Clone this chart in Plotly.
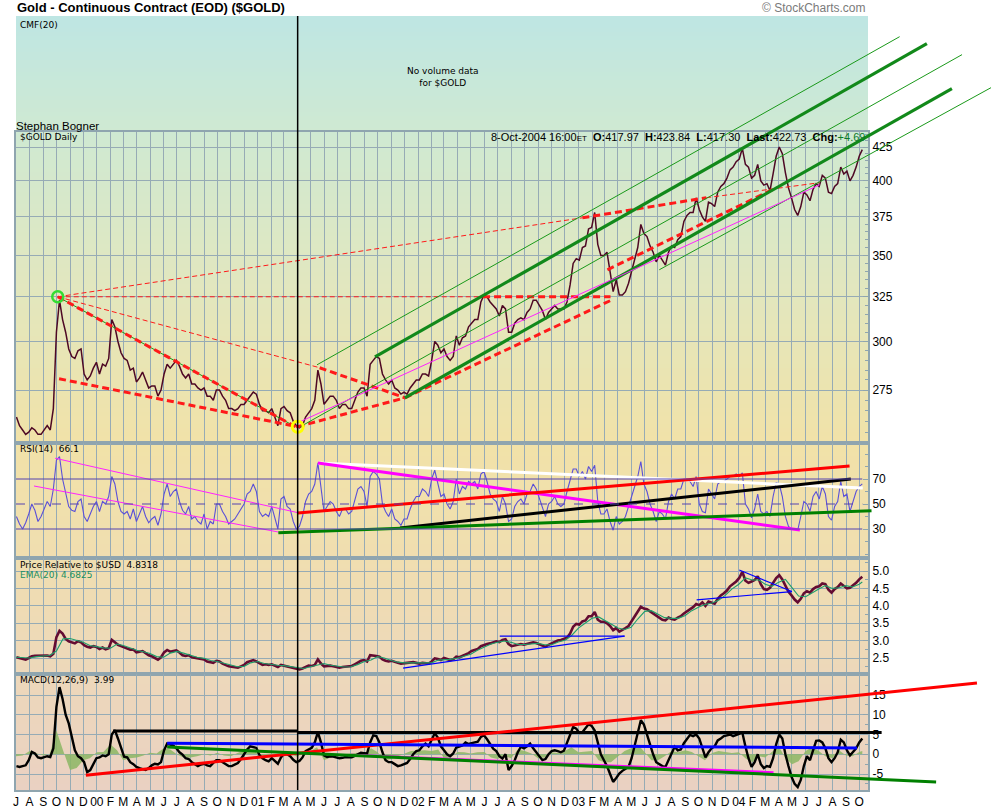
import math
import pandas as pd
import plotly.graph_objects as go

# ---------------------------------------------------------------- data ----
# weekly (Friday) closes of $GOLD, one inner list per month, Jul-1999 .. Oct-2004
price_by_month = [
    [262, 258, 256, 254, 255], [257, 256, 254, 254], [256, 258, 256, 266],
    [305, 323, 312, 305, 296], [292, 291, 295, 296], [283, 280, 282, 286, 289],
    # 2000
    [283, 288, 287, 291], [312, 308, 300, 294], [291, 290, 285, 286, 279],
    [281, 284, 280, 276], [277, 277, 272, 275], [283, 288, 286, 288, 290],
    [287, 283, 281, 283], [278, 278, 276, 275], [276, 272, 272, 270, 275],
    [275, 272, 270, 266], [266, 265, 266, 268], [268, 270, 272, 274, 273],
    # 2001
    [268, 265, 265, 264], [266, 262, 258, 266], [267, 265, 264, 260, 258],
    [257, 258, 262, 264], [266, 270, 285, 278], [268, 270, 272, 272, 270],
    [266, 268, 268, 266], [266, 270, 274, 276, 276], [272, 288, 290, 292],
    [291, 283, 280, 278], [280, 276, 275, 273, 274], [273, 276, 278, 280],
    # 2002
    [280, 283, 283, 282], [290, 300, 298, 294], [296, 292, 290, 292, 303],
    [298, 302, 303, 308], [310, 312, 312, 322, 326], [325, 322, 320, 318],
    [314, 320, 318, 305], [305, 310, 312, 313, 312], [316, 318, 323, 323],
    [320, 317, 312, 316], [318, 320, 318, 318, 318], [322, 332, 345, 348],
    # 2003
    [347, 355, 356, 367, 368], [378, 357, 350, 350], [352, 340, 328, 335],
    [326, 326, 328, 333], [340, 348, 355, 370, 364], [362, 356, 352, 346],
    [350, 347, 344, 352], [356, 355, 360, 362, 372], [376, 378, 378, 388],
    [380, 375, 372, 385, 384], [382, 392, 396, 398], [402, 408, 410, 414],
    # 2004
    [416, 424, 412, 410, 402], [404, 412, 400, 397], [398, 393, 405, 418],
    [425, 420, 406, 395, 388], [380, 376, 382, 392], [390, 386, 394, 398],
    [396, 404, 402, 392, 391], [396, 398, 410, 405], [407, 400, 404, 410],
    [418, 423],
]

rsi_by_month = [
    [40, 34, 30, 35, 42], [50, 45, 36, 40], [46, 52, 48, 62],
    [85, 88, 70, 58, 48], [45, 44, 52, 54], [40, 36, 42, 48, 52],
    [44, 52, 50, 56], [72, 66, 52, 44], [42, 44, 38, 46, 36],
    [42, 48, 40, 35], [38, 40, 33, 42], [58, 66, 56, 60, 62],
    [52, 45, 42, 48], [38, 40, 36, 34], [42, 30, 36, 34, 50],
    [50, 44, 40, 34], [36, 38, 42, 46], [50, 58, 60, 66, 60],
    [44, 40, 42, 40], [48, 40, 30, 54], [56, 48, 46, 36, 30],
    [32, 40, 52, 58], [60, 66, 83, 62], [44, 48, 52, 50, 44],
    [40, 46, 46, 42], [44, 54, 62, 64, 60], [48, 72, 76, 74],
    [70, 50, 44, 40], [46, 38, 36, 33, 38], [38, 46, 52, 56],
    [56, 62, 60, 56], [70, 77, 66, 56], [58, 50, 46, 52, 70],
    [58, 64, 62, 68], [66, 68, 62, 74, 76], [68, 58, 54, 52],
    [44, 56, 50, 36], [38, 48, 52, 54, 50], [58, 60, 66, 62],
    [54, 46, 40, 50], [52, 56, 50, 48, 50], [60, 70, 78, 78],
    [72, 76, 70, 80, 76], [81, 52, 42, 42], [46, 36, 29, 40],
    [34, 36, 40, 48], [58, 66, 72, 84, 66], [60, 50, 44, 36],
    [44, 42, 38, 52], [58, 54, 62, 62, 70], [70, 68, 64, 72],
    [50, 44, 43, 62, 58], [54, 66, 68, 68], [70, 72, 72, 74],
    [72, 75, 50, 46, 39], [46, 58, 44, 42], [44, 40, 56, 67],
    [66, 56, 40, 32, 30], [30, 29, 40, 52], [50, 44, 56, 60],
    [54, 64, 58, 40, 37], [48, 52, 68, 56], [58, 44, 52, 60],
    [64, 66.1],
]

pr_by_month = [
    [2.52, 2.50, 2.48, 2.45, 2.50], [2.55, 2.56, 2.56, 2.57], [2.58, 2.57, 2.55, 2.62],
    [3.10, 3.28, 3.20, 3.05, 2.98], [2.96, 2.92, 2.98, 2.95], [2.87, 2.82, 2.80, 2.84, 2.82],
    [2.76, 2.80, 2.75, 2.78], [3.02, 2.95, 2.88, 2.84], [2.80, 2.78, 2.74, 2.74, 2.66],
    [2.68, 2.70, 2.64, 2.58], [2.55, 2.50, 2.45, 2.52], [2.66, 2.73, 2.68, 2.70, 2.72],
    [2.66, 2.58, 2.56, 2.58], [2.52, 2.50, 2.50, 2.48], [2.46, 2.40, 2.38, 2.36, 2.42],
    [2.40, 2.34, 2.30, 2.26], [2.25, 2.23, 2.22, 2.26], [2.30, 2.38, 2.42, 2.44, 2.40],
    [2.34, 2.30, 2.32, 2.30], [2.32, 2.28, 2.24, 2.30], [2.28, 2.26, 2.22, 2.20, 2.18],
    [2.17, 2.20, 2.25, 2.28], [2.27, 2.30, 2.46, 2.34], [2.26, 2.28, 2.28, 2.26, 2.24],
    [2.22, 2.24, 2.25, 2.26], [2.27, 2.32, 2.38, 2.42, 2.44], [2.40, 2.58, 2.58, 2.56],
    [2.54, 2.46, 2.42, 2.40], [2.42, 2.38, 2.36, 2.34, 2.35], [2.34, 2.36, 2.38, 2.36],
    [2.34, 2.36, 2.35, 2.34], [2.40, 2.49, 2.47, 2.44], [2.50, 2.46, 2.44, 2.46, 2.54],
    [2.52, 2.56, 2.58, 2.64], [2.70, 2.74, 2.76, 2.84, 2.88], [2.90, 2.92, 2.96, 2.98],
    [2.96, 3.02, 3.04, 2.90], [2.84, 2.86, 2.88, 2.90, 2.88], [2.90, 2.92, 2.95, 2.93],
    [2.90, 2.86, 2.82, 2.88], [2.92, 2.98, 3.00, 3.02, 3.04], [3.08, 3.20, 3.40, 3.48],
    [3.46, 3.55, 3.58, 3.70, 3.70], [3.82, 3.60, 3.54, 3.54], [3.50, 3.42, 3.30, 3.36],
    [3.26, 3.30, 3.36, 3.42], [3.55, 3.70, 3.84, 3.97, 3.92], [3.90, 3.84, 3.78, 3.70],
    [3.66, 3.60, 3.58, 3.66], [3.62, 3.60, 3.66, 3.70, 3.78], [3.84, 3.90, 3.96, 4.05],
    [4.02, 4.10, 4.00, 4.12, 4.10], [4.06, 4.20, 4.30, 4.36], [4.44, 4.56, 4.62, 4.70],
    [4.80, 4.98, 4.72, 4.66, 4.70], [4.74, 4.85, 4.62, 4.48], [4.46, 4.52, 4.66, 4.80],
    [4.88, 4.76, 4.58, 4.40, 4.30], [4.18, 4.10, 4.20, 4.36], [4.42, 4.38, 4.48, 4.54],
    [4.56, 4.64, 4.62, 4.46, 4.38], [4.48, 4.54, 4.64, 4.58], [4.50, 4.52, 4.58, 4.66],
    [4.76, 4.8318],
]

macd_by_month = [
    [-3.0, -3.2, -3.0, -2.8, -1.5], [0.6, 0.2, -0.8, -1.0], [-0.8, -0.5, -0.7, 1.5],
    [12.0, 17.0, 14.0, 10.0, 7.8], [4.0, 1.0, -0.5, -1.0], [-2.0, -4.5, -4.0, -2.5, -1.0],
    [-0.8, -0.3, -0.5, 0.0], [5.0, 6.1, 4.0, 1.5], [-0.6, -0.8, -2.0, -2.5, -3.2],
    [-3.5, -3.8, -4.0, -3.5], [-2.8, -2.4, -2.6, -2.0], [1.0, 2.7, 2.4, 2.2, 1.5],
    [0.5, -0.1, -1.0, -1.2], [-2.0, -2.5, -3.0, -2.6], [-2.4, -2.8, -3.0, -2.2, -1.5],
    [-1.5, -2.0, -2.5, -3.0], [-3.0, -2.6, -2.2, -1.2], [0.0, 1.2, 2.0, 1.8, 1.6],
    [-0.2, -1.0, -1.5, -1.8], [-1.0, -1.6, -2.4, -0.8], [0.2, 0.0, -0.5, -1.4, -2.0],
    [-1.7, -0.8, 0.8, 1.2], [1.6, 3.0, 5.6, 3.0], [-0.3, -0.7, -0.5, -0.6, -0.8],
    [-1.0, -0.9, -0.7, -0.8], [-0.8, -0.4, 0.0, 0.4, 0.3], [0.2, 3.0, 4.8, 4.6],
    [3.0, 0.5, -1.5, -2.0], [-2.0, -2.5, -3.0, -2.8, -2.5], [-2.2, -1.2, 0.0, 0.8],
    [1.0, 2.0, 2.7, 2.0], [3.5, 5.3, 4.2, 2.0], [1.0, 0.0, -0.5, 0.2, 1.7],
    [2.0, 2.2, 3.0, 2.6], [2.8, 3.0, 3.2, 4.4, 4.8], [3.8, 2.6, 1.4, 0.8],
    [-0.5, -1.1, 0.0, -4.0], [-3.0, -1.5, 0.5, 1.9, 1.5], [2.0, 2.7, 1.5, 0.5],
    [-0.8, -1.5, -1.2, 0.0], [0.8, 1.0, 0.8, 0.5, 0.9], [3.0, 5.0, 6.9, 6.5],
    [5.4, 5.6, 6.5, 7.6, 7.2], [6.0, 3.0, 0.0, -1.5], [-3.0, -5.0, -7.0, -6.0],
    [-4.9, -4.2, -3.6, -3.2], [-1.0, 2.0, 5.0, 8.6, 7.5], [5.0, 2.0, 0.0, -2.0],
    [-2.5, -3.0, -3.2, -1.5], [0.0, 1.9, 1.0, 1.2, 2.8], [4.0, 4.9, 4.6, 5.0],
    [4.0, 1.5, -0.8, 0.5, 1.5], [2.0, 3.5, 4.0, 4.6], [4.8, 5.0, 4.6, 4.9],
    [5.2, 5.5, 2.0, -1.0, -3.2], [-2.0, 0.0, -2.5, -3.5], [-3.0, -3.2, -1.0, 2.5],
    [5.0, 4.0, 0.0, -3.0, -5.7], [-7.5, -8.3, -6.5, -3.0], [-0.5, -1.5, 1.0, 3.4],
    [3.5, 3.0, 1.5, -1.0, -2.0], [-1.0, 0.5, 3.7, 3.0], [1.0, -0.3, 0.5, 1.5],
    [3.0, 3.99],
]

# semi-monthly values (1st and 16th of each month, then 1-Oct and 8-Oct-2004)
ema20 = [
    2.52, 2.50, 2.50, 2.54, 2.56, 2.57, 2.70, 3.05, 3.06, 3.00, 2.95, 2.86,
    2.82, 2.79, 2.78, 2.90, 2.86, 2.79, 2.72, 2.68, 2.63, 2.54, 2.52, 2.64,
    2.69, 2.64, 2.58, 2.52, 2.49, 2.43, 2.40, 2.36, 2.30, 2.25, 2.26, 2.36,
    2.40, 2.34, 2.31, 2.29, 2.28, 2.25, 2.21, 2.20, 2.25, 2.30, 2.34, 2.29,
    2.26, 2.24, 2.25, 2.31, 2.40, 2.44, 2.54, 2.50, 2.43, 2.38, 2.36, 2.36,
    2.36, 2.35, 2.36, 2.44, 2.45, 2.46, 2.50, 2.55, 2.61, 2.72, 2.82, 2.90,
    2.95, 2.99, 2.95, 2.89, 2.89, 2.91, 2.92, 2.88, 2.88, 2.96, 3.01, 3.14,
    3.36, 3.50, 3.64, 3.68, 3.58, 3.46, 3.36, 3.32, 3.38, 3.62, 3.84, 3.86,
    3.76, 3.66, 3.64, 3.64, 3.72, 3.86, 3.96, 4.04, 4.08, 4.16, 4.30, 4.48,
    4.62, 4.80, 4.74, 4.74, 4.62, 4.56, 4.68, 4.76, 4.52, 4.28, 4.26, 4.38,
    4.48, 4.58, 4.50, 4.52, 4.58, 4.54, 4.62, 4.6825,
]
macd_hist = [
    -0.5, -0.3, 0.8, 0.2, -0.3, 0.1, 6.0, 1.0, -4.0, -3.5, -1.5, -1.0,
    0.5, 0.6, 2.5, 1.0, -1.5, -1.0, -0.8, -0.3, 0.4, 0.2, 1.5, 1.2,
    0.0, -0.8, -0.8, -0.5, 0.0, -0.3, 0.4, -0.3, -0.5, 0.3, 1.0, 1.2,
    0.3, -0.6, -0.2, -0.5, 0.8, 0.2, -0.6, 0.6, 0.8, 1.8, -1.5, -0.8,
    -0.3, 0.0, 0.2, 0.4, 0.2, 1.5, 0.5, -1.5, -1.2, -0.6, 0.2, 0.8,
    0.9, 1.0, 0.8, 1.2, -1.0, -0.8, 0.6, 0.5, 0.2, 0.5, 0.6, -0.8,
    -1.2, -0.5, -1.0, 1.2, 0.8, 0.2, -1.0, -0.8, 0.5, 0.3, 0.8, 1.8,
    0.5, 0.6, 0.8, -1.5, -2.0, -2.0, -0.5, 0.8, 1.5, 2.5, 0.5, -1.5,
    -1.5, -0.5, 0.8, 0.5, 1.0, 0.6, -0.5, -1.5, 0.3, 0.8, 0.6, 0.3,
    0.5, -1.0, -2.0, -0.5, -0.8, 0.5, 2.0, -1.0, -2.5, -1.8, 0.8, 1.8,
    0.8, -0.5, -1.0, 1.0, -0.3, -0.5, 0.6, 0.8,
]

month_labels = (
    ["J", "A", "S", "O", "N", "D"]
    + ["00", "F", "M", "A", "M", "J", "J", "A", "S", "O", "N", "D"]
    + ["01", "F", "M", "A", "M", "J", "J", "A", "S", "O", "N", "D"]
    + ["02", "F", "M", "A", "M", "J", "J", "A", "S", "O", "N", "D"]
    + ["03", "F", "M", "A", "M", "J", "J", "A", "S", "O", "N", "D"]
    + ["04", "F", "M", "A", "M", "J", "J", "A", "S", "O"]
)
price_ticks = [275, 300, 325, 350, 375, 400, 425]
rsi_ticks = [30, 50, 70]
pr_ticks = [2.5, 3.0, 3.5, 4.0, 4.5, 5.0]
macd_ticks = [-5, 0, 5, 10, 15]

# hand-drawn trendlines: (start date, start value, end date, end value, style name)
price_lines = [
    ("1999-10-04", 325.0, "2001-03-28", 257.5, "green_thin"),
    ("1999-10-04", 325.0, "2001-03-28", 257.5, "red_thick"),
    ("1999-10-07", 280.6, "2001-04-02", 257.5, "red_thick"),
    ("2001-04-02", 257.5, "2001-12-02", 271.2, "red_thick"),
    ("1999-10-04", 325.0, "2001-05-22", 286.2, "red_thin"),
    ("2001-05-22", 286.2, "2001-12-02", 271.2, "red_thick"),
    ("1999-10-04", 325.0, "2002-05-29", 325.0, "red_thin"),
    ("2002-05-29", 325.0, "2003-03-15", 325.0, "red_thick"),
    ("1999-10-04", 325.0, "2003-01-10", 374.4, "red_thin"),
    ("2003-01-10", 374.4, "2003-10-19", 388.1, "red_thick"),
    ("2003-10-19", 388.1, "2004-07-03", 398.7, "red_thin"),
    ("2001-12-02", 271.2, "2003-03-19", 323.3, "red_thick"),
    ("2003-03-08", 341.1, "2004-03-17", 393.7, "red_thick"),
    ("2001-05-16", 287.7, "2005-01-01", 517.9, "green_thin"),
    ("2001-09-25", 291.8, "2005-03-04", 511.5, "green_thick"),
    ("2001-04-08", 257.5, "2005-05-23", 501.5, "green_thin"),
    ("2001-12-02", 271.2, "2005-04-30", 471.8, "green_thick"),
    ("2003-07-04", 341.1, "2005-07-28", 472.7, "green_thin"),
    ("2001-04-02", 259.3, "2004-07-03", 397.2, "magenta_thin"),
]
price_marks = [("1999-10-04", 325.0, "green_ring"), ("2001-04-02", 257.5, "yellow_ring")]
cursor_date = "2001-04-02"

rsi_lines = [
    ("1999-09-28", 86.6, "2001-04-02", 43.1, "magenta_thin"),
    ("1999-08-11", 64.4, "2001-02-17", 27.6, "magenta_thin"),
    ("2001-05-18", 82.8, "2004-10-09", 62.8, "white_thick"),
    ("2001-05-18", 82.8, "2004-05-19", 29.2, "magenta_thick"),
    ("2001-04-02", 42.8, "2004-09-09", 80.4, "red_solid"),
    ("2001-11-21", 30.8, "2004-09-12", 70.0, "black_thick"),
    ("2001-02-17", 27.0, "2004-10-29", 44.6, "green_solid"),
]
pr_lines = [
    ("2001-11-28", 2.21, "2003-04-16", 3.13, "blue_thin"),
    ("2002-07-06", 3.13, "2003-04-16", 3.13, "blue_thin"),
    ("2003-09-27", 4.17, "2004-05-01", 4.41, "blue_thin"),
    ("2004-01-02", 5.03, "2004-05-01", 4.41, "blue_thin"),
]
macd_lines = [
    ("2000-02-07", 5.9, "2001-04-02", 5.9, "black_thick"),
    ("2001-04-02", 5.5, "2004-11-21", 5.5, "black_thick"),
    ("1999-12-07", -5.3, "2005-06-26", 18.05, "red_solid"),
    ("2000-06-09", 2.8, "2004-09-26", 1.6, "blue_thick"),
    ("2001-08-01", -0.2, "2004-03-20", -4.6, "magenta_mid"),
    ("2000-06-09", 1.85, "2005-03-25", -7.0, "green_solid"),
]

# ------------------------------------------------------------- helpers ----
def flat(groups):
    return [v for g in groups for v in g]

week_dates = pd.date_range("1999-07-02", "2004-10-08", freq="W-FRI")
price = flat(price_by_month)
rsi = flat(rsi_by_month)
pr = flat(pr_by_month)
macd = flat(macd_by_month)
n = min(len(week_dates), len(price), len(rsi), len(pr), len(macd))
wk = week_dates[:n]

semi_dates = []
for m in pd.date_range("1999-07-01", "2004-09-01", freq="MS"):
    semi_dates += [m, m + pd.Timedelta(days=15)]
semi_dates += [pd.Timestamp("2004-10-01"), pd.Timestamp("2004-10-08")]
ns = min(len(semi_dates), len(ema20), len(macd_hist))

month_ticks = list(pd.date_range("1999-07-01", "2004-10-01", freq="MS"))

W, H = 1000, 810
XL, XR = 16, 868
PANELS = {"cmf": (16, 132), "price": (132, 443), "rsi": (443, 558), "pr": (558, 674), "macd": (674, 790)}
X0 = pd.Timestamp("1999-07-01")
X1 = X0 + pd.Timedelta(days=1939)

def ydom(name):
    top, bot = PANELS[name]
    return [1 - bot / H, 1 - top / H]

def extend(r0, r1, d0, d1):
    span = (r1 - r0) / (d1 - d0)
    return r0 - span * d0, r1 + span * (1 - d1)

def ts(t):
    return t.strftime("%Y-%m-%d %H:%M:%S")

xdom = [XL / W, XR / W]
price_rng = [math.log10(250.1), math.log10(436.6)]
rsi_rng = [6.8, 98.8]
pr_rng = [2.04, 5.374]
macd_rng = [-9.05, 20.32]
cmf_rng = [0, 1]

GRID = "#96abb5"
FRAME = "#8fa5af"
TXT = "Liberation Sans"
SMALL = "DejaVu Sans"

STY = {
    "red_thick": dict(color="#ff1a1a", width=3, dash="7px,4px"),
    "red_thin": dict(color="#ff1a1a", width=1, dash="5px,3px"),
    "green_thick": dict(color="#12891a", width=3.2),
    "green_thin": dict(color="#1a991a", width=1),
    "magenta_thin": dict(color="#ff22ff", width=1),
    "magenta_thick": dict(color="#ff00ff", width=3),
    "magenta_mid": dict(color="#ff00ff", width=2.5),
    "white_thick": dict(color="#ffffff", width=3),
    "red_solid": dict(color="#ff0000", width=3),
    "black_thick": dict(color="#000000", width=3),
    "green_solid": dict(color="#008000", width=3),
    "blue_thin": dict(color="#0000ff", width=1.2),
    "blue_thick": dict(color="#0000ff", width=3),
}
MARK = {
    "green_ring": dict(symbol="circle-open", size=11, color="#33dd33", line=dict(width=2.5, color="#33dd33")),
    "yellow_ring": dict(symbol="circle-open", size=11, color="#ffff00", line=dict(width=3, color="#ffff00")),
}

fig = go.Figure()

# --------------------------------------------------------- data traces ----
fig.add_trace(go.Scatter(x=wk, y=price[:n], mode="lines", line=dict(color="#4e0824", width=1.5),
                         xaxis="x2", yaxis="y2", hoverinfo="skip"))
fig.add_trace(go.Scatter(x=wk, y=rsi[:n], mode="lines", line=dict(color="#5a50d8", width=1.1),
                         xaxis="x3", yaxis="y3", hoverinfo="skip"))
fig.add_trace(go.Scatter(x=wk, y=pr[:n], mode="lines", line=dict(color="#640c32", width=2.6),
                         xaxis="x4", yaxis="y4", hoverinfo="skip"))
fig.add_trace(go.Scatter(x=semi_dates[:ns], y=ema20[:ns], mode="lines", line=dict(color="#1f9e6a", width=1.1),
                         xaxis="x4", yaxis="y4", hoverinfo="skip"))
fig.add_trace(go.Scatter(x=semi_dates[:ns], y=macd_hist[:ns], mode="lines", line=dict(width=0, color="#93b970"),
                         fill="tozeroy", fillcolor="rgba(140,182,100,0.85)", xaxis="x5", yaxis="y5", hoverinfo="skip"))
fig.add_trace(go.Scatter(x=wk, y=macd[:n], mode="lines", line=dict(color="#000000", width=2.4),
                         xaxis="x5", yaxis="y5", hoverinfo="skip"))

# ---------------------------------------------------- trendlines (overlay) ----
def add_lines(lines, yid):
    for d0, v0, d1, v1, style in lines:
        fig.add_trace(go.Scatter(x=[d0, d1], y=[v0, v1], mode="lines", line=STY[style],
                                 xaxis="x6", yaxis=yid, hoverinfo="skip"))

add_lines(price_lines, "y6")
add_lines(rsi_lines, "y7")
add_lines(pr_lines, "y8")
add_lines(macd_lines, "y9")
for d, v, style in price_marks:
    fig.add_trace(go.Scatter(x=[d], y=[v], mode="markers", marker=MARK[style],
                             xaxis="x6", yaxis="y6", hoverinfo="skip"))

# ---------------------------------------------------------------- axes ----
def xax(anchor, labels=False):
    return dict(type="date", range=[ts(X0), ts(X1)], domain=xdom, anchor=anchor,
                showgrid=True, gridcolor=GRID, gridwidth=1, tickmode="array",
                tickvals=month_ticks, ticktext=month_labels, showticklabels=labels,
                ticks="", tickfont=dict(family=TXT, size=12, color="black"),
                showline=True, mirror=True, linecolor=FRAME, linewidth=2,
                zeroline=False, fixedrange=True, automargin=False)

def yax(name, rng, ticks, texts, grid, typ="linear", minor=None):
    d = dict(type=typ, range=rng, domain=ydom(name), anchor={"cmf": "x", "price": "x2", "rsi": "x3",
                                                              "pr": "x4", "macd": "x5"}[name],
             side="right", showgrid=grid, gridcolor=GRID, gridwidth=1,
             tickmode="array", tickvals=ticks, ticktext=texts, ticks="inside" if ticks else "",
             ticklen=5, tickcolor=FRAME, tickfont=dict(family=TXT, size=12, color="black"),
             showline=True, mirror=True, linecolor=FRAME, linewidth=2,
             zeroline=False, fixedrange=True, automargin=False)
    if minor:
        d["minor"] = dict(tickvals=minor, ticks="inside", ticklen=3, tickcolor=FRAME, showgrid=False)
    return d

layout_axes = dict(
    xaxis=xax("y"), xaxis2=xax("y2"), xaxis3=xax("y3"), xaxis4=xax("y4"), xaxis5=xax("y5", labels=True),
    yaxis=yax("cmf", cmf_rng, [], [], False),
    yaxis2=yax("price", price_rng, price_ticks, [str(t) for t in price_ticks], True, "log",
               minor=[v for v in range(255, 440, 5) if v not in price_ticks]),
    yaxis3=yax("rsi", rsi_rng, rsi_ticks, [str(t) for t in rsi_ticks], False,
               minor=[10, 20, 40, 60, 80, 90]),
    yaxis4=yax("pr", pr_rng, pr_ticks, ["%.1f" % t for t in pr_ticks], True,
               minor=[2.25, 2.75, 3.25, 3.75, 4.25, 4.75, 5.25]),
    yaxis5=yax("macd", macd_rng, macd_ticks, [str(t) for t in macd_ticks], True,
               minor=[-7.5, -2.5, 2.5, 7.5, 12.5, 17.5]),
)

# overlay axes spanning the whole page so trendlines may run past the plot frame
ox0, ox1 = extend(X0, X1, xdom[0], xdom[1])
hidden = dict(visible=False, showgrid=False, zeroline=False, fixedrange=True, automargin=False)
layout_axes["xaxis6"] = dict(type="date", domain=[0, 1], anchor="y6", range=[ts(ox0), ts(ox1)], **hidden)
layout_axes["yaxis6"] = dict(type="log", domain=[0, 1], anchor="x6",
                             range=list(extend(price_rng[0], price_rng[1], *ydom("price"))), **hidden)
layout_axes["yaxis7"] = dict(type="linear", overlaying="y6", anchor="x6",
                             range=list(extend(rsi_rng[0], rsi_rng[1], *ydom("rsi"))), **hidden)
layout_axes["yaxis8"] = dict(type="linear", overlaying="y6", anchor="x6",
                             range=list(extend(pr_rng[0], pr_rng[1], *ydom("pr"))), **hidden)
layout_axes["yaxis9"] = dict(type="linear", overlaying="y6", anchor="x6",
                             range=list(extend(macd_rng[0], macd_rng[1], *ydom("macd"))), **hidden)

# --------------------------------------------------------------- shapes ----
shapes = []
stops = [(16, (190, 230, 227)), (132, (207, 233, 210)), (290, (226, 231, 190)), (443, (241, 226, 168)),
         (558, (240, 222, 176)), (674, (237, 216, 186)), (790, (234, 209, 194))]

def bg_color(y):
    for (ya, ca), (yb, cb) in zip(stops[:-1], stops[1:]):
        if ya <= y <= yb:
            f = (y - ya) / (yb - ya)
            return "rgb(%d,%d,%d)" % tuple(round(a + (b - a) * f) for a, b in zip(ca, cb))
    return "rgb(%d,%d,%d)" % stops[-1][1]

y = 16
while y < 790:
    y2 = min(y + 4, 790)
    shapes.append(dict(type="rect", xref="paper", yref="paper", x0=xdom[0], x1=xdom[1],
                       y0=1 - y2 / H, y1=1 - y / H, fillcolor=bg_color((y + y2) / 2),
                       line=dict(width=0), layer="below"))
    y = y2

# RSI reference levels
for lvl, dash in [(70, "solid"), (50, "dash"), (30, "solid")]:
    shapes.append(dict(type="line", xref="x3", yref="y3", x0=ts(X0), x1=wk[-1], y0=lvl, y1=lvl,
                       line=dict(color="#5443b0", width=1, dash=dash), layer="above"))
# vertical cursor line through all panels
shapes.append(dict(type="line", xref="x6", yref="paper", x0=cursor_date, x1=cursor_date,
                   y0=1 - PANELS["macd"][1] / H, y1=1 - PANELS["cmf"][0] / H,
                   line=dict(color="black", width=1.5), layer="above"))

# ---------------------------------------------------------- annotations ----
def note(x, y, text, anchor="left", size=9, family=SMALL, color="black"):
    return dict(xref="paper", yref="paper", x=x / W, y=1 - y / H, text=text, showarrow=False,
                xanchor=anchor, yanchor="middle", font=dict(family=family, size=size, color=color),
                align="center" if anchor == "center" else anchor)

annotations = [
    note(15, 8, "<b>Gold - Continuous Contract (EOD) ($GOLD)</b>", size=13, family=TXT),
    note(868, 8, "© StockCharts.com", anchor="right", size=12, family=TXT, color="#7a7a7a"),
    note(18, 25, "CMF(20)"),
    note(443, 77, "No volume data<br>for $GOLD", anchor="center"),
    note(14, 126, "Stephan Bogner", size=11.5, family=TXT),
    note(18, 137, "$GOLD Daily"),
    note(867, 137, "8-Oct-2004 16:00<span style='font-size:8px'>ET</span>  <b>O:</b>417.97  <b>H:</b>423.84  "
                   "<b>L:</b>417.30  <b>Last:</b>422.73  <b>Chg:</b><span style='color:#0a7a2a'>+4.69</span>",
         anchor="right", size=11, family=TXT),
    note(18, 449, "RSI(14)  66.1"),
    note(18, 565, "Price Relative to $USD  4.8318"),
    note(18, 575, "EMA(20) 4.6825", color="#1a8f5f"),
    note(18, 680, "MACD(12,26,9)  3.99"),
]

fig.update_layout(
    width=W, height=H, margin=dict(l=0, r=0, t=0, b=0),
    template="none", paper_bgcolor="white", plot_bgcolor="rgba(0,0,0,0)",
    showlegend=False, hovermode=False, shapes=shapes, annotations=annotations,
    **layout_axes,
)

# the page body gets no default margin so the figure sits at the window's top-left corner
fig.write_html("out.html", config={"displayModeBar": False, "staticPlot": True},
               post_script="document.body.style.margin='0px';document.body.style.overflow='hidden';")
